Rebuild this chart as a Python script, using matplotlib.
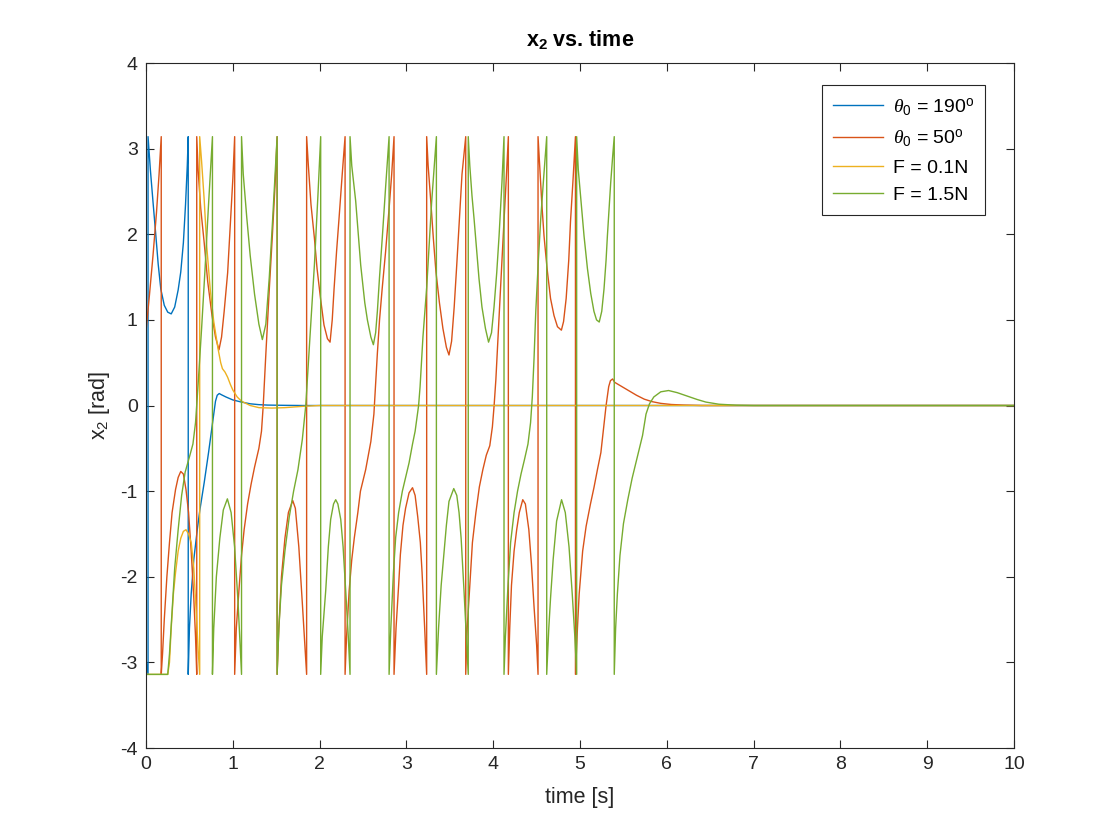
import matplotlib
matplotlib.use("Agg")
import matplotlib.pyplot as plt

# values (wrapped angle, rad); repeated times mark the +/-pi wrap
t_190 = [0, 0.023, 0.023, 0.05, 0.08, 0.11, 0.14, 0.17, 0.21, 0.25, 0.29, 0.33, 0.37, 0.40,
         0.43, 0.455, 0.475, 0.486, 0.486, 0.50, 0.52, 0.55, 0.59, 0.62, 0.67, 0.72, 0.76,
         0.80, 0.82, 0.843, 0.87, 0.92, 1.0, 1.1, 1.2, 1.3, 1.4, 1.6, 1.8, 2.0, 10]
x2_190 = [-2.97, -3.14, 3.14, 2.75, 2.38, 2.02, 1.65, 1.36, 1.17, 1.09, 1.07, 1.15, 1.35, 1.56,
          1.9, 2.35, 2.8, 3.14, -3.14, -2.6, -2.2, -1.8, -1.45, -1.22, -0.9, -0.55, -0.25,
          0.05, 0.12, 0.14, 0.125, 0.1, 0.065, 0.04, 0.02, 0.01, 0.005, 0.002, 0, 0, 0]

t_50 = [0, 0.04, 0.08, 0.12, 0.15, 0.175, 0.175, 0.19, 0.21, 0.24, 0.27, 0.30, 0.34, 0.37,
        0.40, 0.43, 0.46, 0.49, 0.52, 0.55, 0.57, 0.584, 0.584, 0.60, 0.63, 0.67, 0.71, 0.76,
        0.80, 0.84, 0.87, 0.90, 0.94, 0.97, 1.0, 1.021, 1.021, 1.04, 1.07, 1.10, 1.13, 1.17,
        1.21, 1.25, 1.30, 1.33, 1.35, 1.38, 1.42, 1.455, 1.49, 1.51, 1.51, 1.53, 1.56, 1.60,
        1.64, 1.69, 1.72, 1.76, 1.80, 1.85, 1.85, 1.87, 1.90, 1.94, 1.97, 2.01, 2.05, 2.09,
        2.12, 2.145, 2.166, 2.195, 2.223, 2.26, 2.293, 2.293, 2.31, 2.34, 2.37, 2.40, 2.44,
        2.47, 2.53, 2.59, 2.625, 2.645, 2.665, 2.69, 2.72, 2.76, 2.80, 2.83, 2.857, 2.857,
        2.88, 2.91, 2.93, 2.96, 2.99, 3.03, 3.07, 3.10, 3.13, 3.16, 3.18, 3.21, 3.233, 3.233,
        3.25, 3.28, 3.31, 3.34, 3.38, 3.42, 3.46, 3.49, 3.52, 3.55, 3.58, 3.61, 3.64, 3.683,
        3.683, 3.70, 3.73, 3.76, 3.80, 3.84, 3.88, 3.92, 3.96, 3.99, 4.01, 4.03, 4.07, 4.10,
        4.125, 4.15, 4.174, 4.174, 4.19, 4.21, 4.24, 4.27, 4.30, 4.34, 4.37, 4.41, 4.44, 4.47,
        4.50, 4.516, 4.516, 4.54, 4.56, 4.585, 4.62, 4.66, 4.70, 4.74, 4.785, 4.81, 4.84, 4.87,
        4.89, 4.92, 4.947, 4.947, 4.97, 4.99, 5.03, 5.07, 5.12, 5.16, 5.20, 5.24, 5.27, 5.30,
        5.33, 5.35, 5.375, 5.40, 5.45, 5.55, 5.65, 5.74, 5.83, 5.93, 6.05, 6.2, 6.4, 10]
x2_50 = [0.87, 1.3, 1.75, 2.25, 2.7, 3.14, -3.14, -2.9, -2.5, -2.0, -1.6, -1.25, -0.98, -0.84,
         -0.77, -0.8, -0.98, -1.25, -1.7, -2.25, -2.7, -3.14, 3.14, 2.75, 2.3, 1.9, 1.45, 1.05,
         0.8, 0.65, 0.8, 1.1, 1.55, 2.1, 2.65, 3.14, -3.14, -2.6, -2.16, -1.75, -1.45, -1.15,
         -0.92, -0.72, -0.5, -0.3, 0.0, 0.6, 1.36, 1.98, 2.65, 3.14, -3.14, -2.6, -2.0, -1.55,
         -1.25, -1.11, -1.2, -1.65, -2.3, -3.14, 3.14, 2.8, 2.35, 1.95, 1.6, 1.25, 0.94, 0.78,
         0.74, 1.0, 1.36, 1.8, 2.18, 2.7, 3.14, -3.14, -2.7, -2.16, -1.8, -1.54, -1.25,
         -1.0, -0.75, -0.42, -0.1, 0.25, 0.61, 1.0, 1.36, 1.8, 2.3, 2.7, 3.14, -3.14,
         -2.6, -2.1, -1.74, -1.4, -1.2, -1.02, -0.96, -1.05, -1.3, -1.6, -1.95, -2.6, -3.14, 3.14,
         2.8, 2.39, 1.95, 1.56, 1.2, 0.9, 0.68, 0.59, 0.75, 1.15, 1.65, 2.18, 2.7, 3.14,
         -3.14, -2.6, -2.1, -1.6, -1.25, -0.95, -0.75, -0.58, -0.47, -0.25, 0.0, 0.3, 1.1, 1.7,
         2.18, 2.65, 3.14, -3.14, -2.6, -2.1, -1.7, -1.45, -1.25, -1.1, -1.15, -1.45, -1.85, -2.35,
         -2.8, -3.14, 3.14, 2.7, 2.35, 1.98, 1.6, 1.25, 1.05, 0.92, 0.88, 0.98, 1.25, 1.7,
         2.15, 2.65, 3.14, -3.14, -2.6, -2.2, -1.7, -1.41, -1.15, -0.96, -0.75, -0.55, -0.28, 0.0,
         0.22, 0.29, 0.31, 0.27, 0.24, 0.18, 0.12, 0.074, 0.045, 0.025, 0.012, 0.005, 0, 0]

t_f01 = [0, 0.25, 0.27, 0.29, 0.315, 0.34, 0.37, 0.40, 0.43, 0.46, 0.49, 0.52, 0.55, 0.58,
         0.60, 0.618, 0.618, 0.64, 0.67, 0.70, 0.74, 0.78, 0.83, 0.86, 0.88, 0.91, 0.94, 0.97,
         1.0, 1.05, 1.1, 1.2, 1.3, 1.45, 1.6, 1.8, 2.0, 10]
x2_f01 = [-3.14, -3.14, -3.0, -2.6, -2.2, -1.95, -1.7, -1.55, -1.47, -1.45, -1.5, -1.6, -1.9,
          -2.45, -2.85, -3.14, 3.14, 2.85, 2.4, 1.85, 1.35, 0.98, 0.66, 0.5, 0.43, 0.39, 0.33,
          0.25, 0.18, 0.1, 0.05, 0.0, -0.025, -0.03, -0.025, -0.01, 0, 0]

t_f15 = [0, 0.25, 0.27, 0.30, 0.33, 0.37, 0.41, 0.45, 0.50, 0.54, 0.57, 0.60, 0.64, 0.68, 0.72,
         0.765, 0.765, 0.78, 0.81, 0.85, 0.89, 0.937, 0.98, 1.02, 1.06, 1.10, 1.10, 1.12, 1.16,
         1.20, 1.25, 1.30, 1.34, 1.38, 1.42, 1.46, 1.51, 1.51, 1.53, 1.56, 1.60, 1.65, 1.70,
         1.75, 1.80, 1.84, 1.87, 1.90, 1.94, 1.98, 2.012, 2.012, 2.03, 2.07, 2.10, 2.127, 2.16,
         2.185, 2.21, 2.243, 2.27, 2.30, 2.33, 2.35, 2.35, 2.37, 2.415, 2.473, 2.52, 2.55, 2.59,
         2.619, 2.645, 2.665, 2.69, 2.723, 2.76, 2.80, 2.80, 2.82, 2.85, 2.876, 2.91, 2.953, 3.0,
         3.03, 3.07, 3.10, 3.14, 3.157, 3.19, 3.234, 3.26, 3.29, 3.32, 3.345, 3.345, 3.37, 3.40,
         3.426, 3.46, 3.49, 3.545, 3.58, 3.606, 3.63, 3.663, 3.69, 3.712, 3.712, 3.73, 3.755,
         3.779, 3.81, 3.836, 3.87, 3.91, 3.946, 3.98, 4.009, 4.04, 4.067, 4.10, 4.124, 4.124,
         4.14, 4.17, 4.20, 4.24, 4.28, 4.32, 4.36, 4.40, 4.43, 4.45, 4.47, 4.49, 4.52, 4.547,
         4.58, 4.616, 4.616, 4.64, 4.66, 4.69, 4.73, 4.787, 4.83, 4.873, 4.91, 4.94, 4.961,
         4.961, 4.98, 5.01, 5.046, 5.085, 5.123, 5.16, 5.19, 5.221, 5.25, 5.276, 5.30, 5.315,
         5.335, 5.353, 5.375, 5.394, 5.394, 5.41, 5.43, 5.46, 5.50, 5.55, 5.60, 5.66, 5.72,
         5.76, 5.80, 5.85, 5.93, 6.02, 6.12, 6.22, 6.35, 6.45, 6.6, 6.8, 7.0, 10]
x2_f15 = [-3.14, -3.14, -2.9, -2.4, -1.9, -1.45, -1.05, -0.78, -0.6, -0.45, -0.2, 0.25, 0.9,
          1.6, 2.35, 3.14, -3.14, -2.6, -2.0, -1.55, -1.22, -1.09, -1.25, -1.65, -2.3, -3.14,
          3.14, 2.7, 2.2, 1.75, 1.3, 0.95, 0.77, 0.95, 1.5, 2.2, 3.14, -3.14, -2.6, -2.1, -1.7,
          -1.3, -1.0, -0.75, -0.4, 0.0, 0.5, 1.0, 1.65, 2.45, 3.14, -3.14, -2.7, -2.16, -1.65,
          -1.33, -1.15, -1.10, -1.15, -1.33, -1.65, -2.16, -2.7, -3.14, 3.14, 2.8, 2.39, 1.64,
          1.2, 1.0, 0.8, 0.71, 0.85, 1.1, 1.5, 1.98, 2.55, 3.14, -3.14, -2.6, -1.95, -1.54,
          -1.25, -1.0, -0.8, -0.67, -0.45, -0.3, 0.0, 0.22, 0.8, 1.39, 1.85, 2.37, 2.8, 3.14,
          -3.14, -2.6, -2.1, -1.8, -1.4, -1.12, -0.97, -1.05, -1.25, -1.55, -2.16, -2.7, -3.14,
          3.14, 2.8, 2.45, 2.18, 1.8, 1.48, 1.15, 0.9, 0.74, 0.85, 1.15, 1.55, 1.98, 2.6, 3.14,
          -3.14, -2.7, -2.1, -1.6, -1.25, -1.0, -0.8, -0.63, -0.45, -0.2, 0.1, 0.55, 1.1, 1.7,
          2.18, 2.65, 3.14, -3.14, -2.6, -2.25, -1.8, -1.35, -1.10, -1.25, -1.65, -2.2, -2.7,
          -3.14, 3.14, 2.75, 2.4, 1.98, 1.6, 1.31, 1.1, 1.0, 0.975, 1.1, 1.36, 1.7, 1.98, 2.3,
          2.6, 2.9, 3.14, -3.14, -2.6, -2.2, -1.75, -1.38, -1.1, -0.85, -0.6, -0.35, -0.1,
          0.02, 0.1, 0.16, 0.175, 0.15, 0.115, 0.07, 0.04, 0.015, 0.004, 0.0, 0]

labels = [r"$\theta_0$ = 190$^{\mathrm{o}}$", r"$\theta_0$ = 50$^{\mathrm{o}}$",
          "F = 0.1N", "F = 1.5N"]
colors = ["#0072BD", "#D95319", "#EDB120", "#77AC30"]

plt.rcParams["font.family"] = ["Liberation Sans", "DejaVu Sans"]
plt.rcParams["mathtext.fontset"] = "custom"
plt.rcParams["mathtext.rm"] = "Liberation Sans"
plt.rcParams["mathtext.it"] = "Liberation Serif:italic"
plt.rcParams["mathtext.bf"] = "Liberation Sans:bold"
plt.rcParams["axes.unicode_minus"] = False

axc = "#262626"
fig = plt.figure(figsize=(11.2, 8.4), dpi=100)
ax = fig.add_axes([0.1304, 0.1095, 0.775, 0.8155])

series = [(t_190, x2_190), (t_50, x2_50), (t_f01, x2_f01), (t_f15, x2_f15)]
for (t, v), c, lab in zip(series, colors, labels):
    ax.plot(t, v, color=c, lw=1.0, label=lab)

ax.set_xlim(0, 10)
ax.set_ylim(-4, 4)
ax.set_xticks(range(0, 11))
ax.set_yticks(range(-4, 5))
ax.tick_params(direction="in", length=6, width=0.8, top=True, right=True,
               labelsize=14, colors=axc, pad=6)
for s in ax.spines.values():
    s.set_color(axc)
    s.set_linewidth(0.8)

ax.set_xlabel("time [s]", fontsize=15.5, color=axc, labelpad=10)
ax.set_ylabel(r"x$_2$ [rad]", fontsize=15.5, color=axc, labelpad=6)
ax.set_title(r"x$_\mathbf{2}$ vs. time", fontsize=15.5, fontweight="bold", color="black", pad=12)

leg = ax.legend(loc="upper right", bbox_to_anchor=(0.967, 0.968), fontsize=14,
                fancybox=False, framealpha=1, edgecolor=axc, handlelength=2.6,
                borderaxespad=0, labelspacing=0.5, handletextpad=0.5, borderpad=0.55)
leg.get_frame().set_linewidth(0.8)

fig.savefig("out.png", dpi=100)
plt.close(fig)
